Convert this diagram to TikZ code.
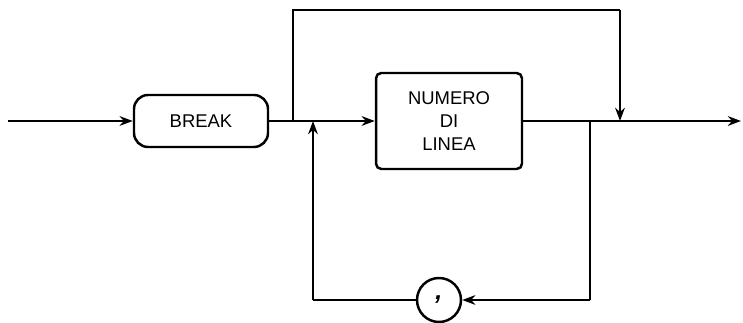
\documentclass[tikz,border=0pt]{standalone}
\usepackage{fontspec}
\setmainfont{Liberation Sans}
\usetikzlibrary{arrows.meta}

\begin{document}
\begin{tikzpicture}[x=0.02cm, y=0.02cm, line width=1.4pt, >={Stealth[length=7.5pt,width=5.5pt]},
    parola/.style={draw, rounded corners=8pt, minimum width=2.68cm, minimum height=1.04cm, font=\fontsize{10.5}{12}\selectfont},
    blocco/.style={draw, rounded corners=3pt, minimum width=2.92cm, minimum height=1.92cm, align=center, font=\fontsize{10.5}{12}\selectfont, inner sep=0pt},
    simbolo/.style={draw, circle, minimum size=0.88cm, inner sep=0pt}]
            \useasboundingbox (0, 0) rectangle (743, 323);
            
            % Các nút chính
            \node[parola] (brk) at (201, 202) {BREAK};
            \node[blocco] (num) at (449, 202) {NUMERO\\[1pt]DI\\[1pt]LINEA};
            \node[simbolo] (comma) at (439, 23) {\raisebox{3pt}{\Large\bfseries\itshape ,}};
            
            % Các điểm nối
            \coordinate (in) at (8, 202);
            \coordinate (j1) at (293, 202);
            \coordinate (j2) at (313, 202);
            \coordinate (j3) at (590, 202);
            \coordinate (j4) at (620, 202);
            \coordinate (out) at (741, 202);
            \coordinate (tl) at (293, 313);
            \coordinate (tr) at (620, 313);
            \coordinate (bl) at (313, 23);
            \coordinate (br) at (590, 23);
            
            % Đường chính
            \draw[->] (in) -- (brk);
            \draw (brk) -- (j1);
            \draw[->] (j1) -- (num);
            \draw (num) -- (j4);
            \draw[->] (j4) -- (out);
            
            % Nhánh bỏ qua phía trên
            \draw (j1) -- (tl) -- (tr);
            \draw[->] (tr) -- (j4);
            
            % Vòng lặp phía dưới
            \draw (j3) -- (br);
            \draw[->] (br) -- (comma);
            \draw (comma) -- (bl);
            \draw[->] (bl) -- (j2);
        \end{tikzpicture}
\end{document}
